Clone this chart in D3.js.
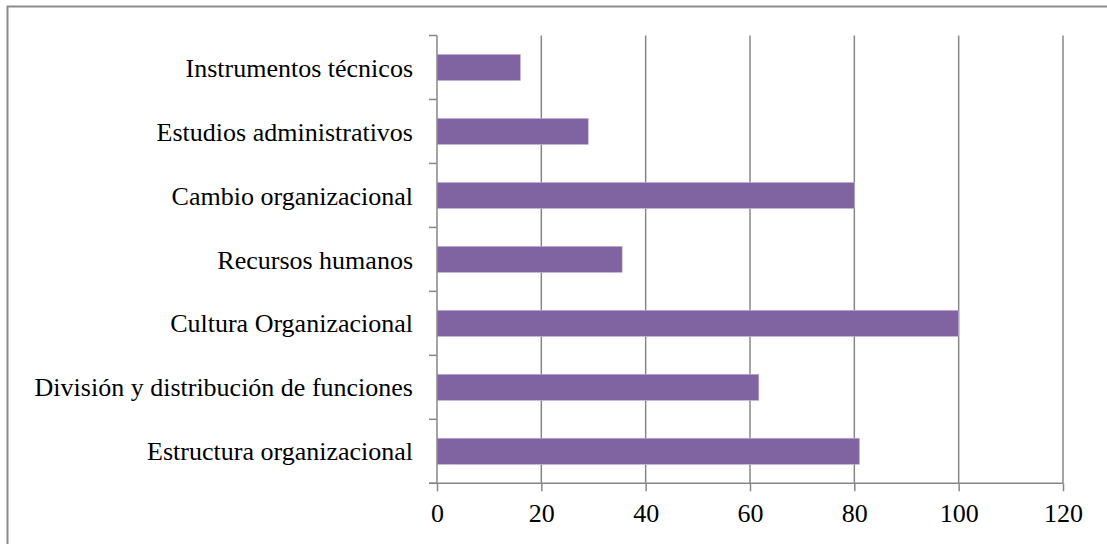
<!DOCTYPE html>
<html>
<head>
<meta charset="utf-8">
<script src="https://cdn.jsdelivr.net/npm/d3@7"></script>
<style>
  html, body { margin: 0; padding: 0; background: #fff; }
  svg { display: block; }
  text { font-family: "Liberation Serif", "Times New Roman", serif; fill: #000; }
</style>
</head>
<body>
<svg id="chart" width="1107" height="544"></svg>
<script>
// Categories listed from top to bottom
const categories = [
  "Instrumentos técnicos",
  "Estudios administrativos",
  "Cambio organizacional",
  "Recursos humanos",
  "Cultura Organizacional",
  "División y distribución de funciones",
  "Estructura organizacional"
];
const values = [16, 29, 80, 35.5, 100, 61.7, 81];
const xTicks = [0, 20, 40, 60, 80, 100, 120];

(function () {
  const svg = d3.select("#chart");
  const W = 1107, H = 544;
  const plotLeft = 437, plotRight = 1063, plotTop = 35.5, plotBottom = 483.3;
  const gridColor = "#878787";

  // Outer frame
  svg.append("rect")
    .attr("x", 7.5).attr("y", 6.5)
    .attr("width", W + 10).attr("height", H + 10)
    .attr("fill", "none").attr("stroke", "#8c8c8c").attr("stroke-width", 2);

  const x = d3.scaleLinear().domain([0, 120]).range([plotLeft, plotRight]);
  const y = d3.scaleBand().domain(categories).range([plotTop, plotBottom])
    .paddingInner(0.59).paddingOuter(0.295);

  // Vertical gridlines
  svg.append("g").selectAll("line")
    .data(xTicks.filter(d => d > 0))
    .join("line")
    .attr("x1", d => x(d)).attr("x2", d => x(d))
    .attr("y1", plotTop).attr("y2", plotBottom)
    .attr("stroke", gridColor).attr("stroke-width", 1.5);

  // Bars
  svg.append("g").selectAll("rect")
    .data(categories)
    .join("rect")
    .attr("x", x(0))
    .attr("y", d => y(d))
    .attr("width", (d, i) => x(values[i]) - x(0))
    .attr("height", y.bandwidth())
    .attr("fill", "#8064a2")
    .attr("stroke", "#c9bddb").attr("stroke-width", 0.6);

  // Bottom axis
  const xAxis = d3.axisBottom(x).tickValues(xTicks).tickSize(8).tickSizeOuter(0).tickPadding(12);
  const gx = svg.append("g").attr("transform", `translate(0,${plotBottom})`).call(xAxis);
  gx.select(".domain").remove();
  gx.selectAll(".tick line").attr("stroke", gridColor).attr("stroke-width", 1.5);
  gx.selectAll(".tick text").attr("font-size", 26).attr("font-family", "Liberation Serif").attr("fill", "#000");
  gx.append("line").attr("x1", plotLeft - 8).attr("x2", plotRight).attr("y1", 0).attr("y2", 0)
    .attr("stroke", gridColor).attr("stroke-width", 1.5);

  // Left axis with ticks at band boundaries
  const gy = svg.append("g");
  gy.append("line").attr("x1", plotLeft).attr("x2", plotLeft).attr("y1", plotTop).attr("y2", plotBottom)
    .attr("stroke", gridColor).attr("stroke-width", 1.5);
  const step = (plotBottom - plotTop) / categories.length;
  const yTicks = d3.range(categories.length + 1).map(i => plotTop + i * step);
  gy.selectAll(".ytick").data(yTicks).join("line")
    .attr("x1", plotLeft - 8).attr("x2", plotLeft)
    .attr("y1", d => d).attr("y2", d => d)
    .attr("stroke", gridColor).attr("stroke-width", 1.5);
  gy.selectAll(".ylab").data(categories).join("text")
    .attr("x", 413)
    .attr("y", d => y(d) + y.bandwidth() / 2)
    .attr("dy", "0.35em")
    .attr("text-anchor", "end")
    .attr("font-size", 26)
    .text(d => d);
})();
</script>
</body>
</html>
